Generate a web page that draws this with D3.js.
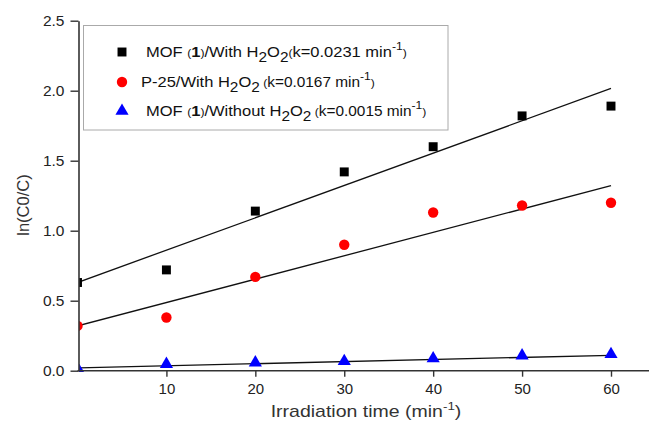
<!DOCTYPE html>
<html>
<head>
<meta charset="utf-8">
<script src="https://cdn.jsdelivr.net/npm/d3@7"></script>
<style>
  body { margin: 0; background: #fff; }
  svg { display: block; font-family: "Liberation Sans", Arial, sans-serif; }
</style>
</head>
<body>
<svg id="chart" width="649" height="423"></svg>
<script>
// irradiation times (min)
const times = [0, 10, 20, 30, 40, 50, 60];
// ln(C0/C) values
const mofWithH2O2 = [0.63, 0.72, 1.14, 1.42, 1.60, 1.82, 1.89];
const p25WithH2O2 = [0.32, 0.38, 0.67, 0.90, 1.13, 1.18, 1.20];
const mofWithoutH2O2 = [0.01, 0.04, 0.05, 0.06, 0.08, 0.10, 0.11];
// linear fit: intercept and rate constant k
const fitIntercepts = [0.63, 0.32, 0.02];
const fitSlopes = [0.0231, 0.0167, 0.0015];
const xTicks = [10, 20, 30, 40, 50, 60];
const yTicks = [0.0, 0.5, 1.0, 1.5, 2.0, 2.5];

const svg = d3.select("#chart");
const x = d3.scaleLinear().domain([0, 60]).range([77.5, 611]);
const y = d3.scaleLinear().domain([0, 2.5]).range([370.7, 20.7]);
const axisColor = "#333";
const font = "Liberation Sans, Arial, sans-serif";

svg.append("defs").append("clipPath").attr("id", "plot")
  .append("rect").attr("x", x(0) + 1.5).attr("y", 0).attr("width", 649).attr("height", 372);

// legend box
svg.append("rect")
  .attr("x", 83.5).attr("y", 25.5).attr("width", 364.5).attr("height", 104.5)
  .attr("fill", "#fff").attr("stroke", "#aaa").attr("stroke-width", 1);

const series = [
  { vals: mofWithH2O2, color: "#000", shape: d3.symbolSquare, size: 80 },
  { vals: p25WithH2O2, color: "#ff0000", shape: d3.symbolCircle, size: 85 },
  { vals: mofWithoutH2O2, color: "#0000ff", shape: d3.symbolTriangle, size: 75 }
];

// fit lines + points
const plot = svg.append("g").attr("clip-path", "url(#plot)");
series.forEach((s, i) => {
  plot.append("line")
    .attr("x1", x(0)).attr("y1", y(fitIntercepts[i]))
    .attr("x2", x(60)).attr("y2", y(fitIntercepts[i] + fitSlopes[i] * 60))
    .attr("stroke", "#111").attr("stroke-width", 1.3);
});
series.forEach(s => {
  plot.selectAll(null).data(times).enter().append("path")
    .attr("d", d3.symbol().type(s.shape).size(s.size))
    .attr("transform", (t, j) => `translate(${x(t)},${y(s.vals[j]) + (s.shape === d3.symbolTriangle ? -1 : 0)})`)
    .attr("fill", s.color);
});

// axes
const yAxis = svg.append("g").attr("transform", `translate(${x(0) + 1},0)`)
  .call(d3.axisLeft(y).tickValues(yTicks).tickFormat(d3.format(".1f")).tickSize(8).tickSizeOuter(0).tickPadding(6));
yAxis.select(".domain").attr("stroke", axisColor).attr("stroke-width", 1.6);
yAxis.selectAll(".tick line").attr("stroke", axisColor).attr("stroke-width", 1.4);
yAxis.selectAll(".tick text").attr("font-size", 15.5).attr("fill", "#222").attr("font-family", font);

const xAxis = svg.append("g").attr("transform", `translate(0,${y(0)})`)
  .call(d3.axisBottom(x).tickValues(xTicks).tickSize(6).tickSizeOuter(0).tickPadding(7));
xAxis.select(".domain").attr("d", `M${x(0)},0H649`).attr("stroke", axisColor).attr("stroke-width", 1.6);
xAxis.selectAll(".tick line").attr("stroke", axisColor).attr("stroke-width", 1.4);
xAxis.selectAll(".tick text").attr("font-size", 15).attr("fill", "#222").attr("font-family", font);

// axis titles
svg.append("text")
  .attr("transform", "translate(29,205) rotate(-90)")
  .attr("text-anchor", "middle").attr("font-size", 16.5).attr("fill", "#333")
  .text("ln(C0/C)");

const xt = svg.append("text").attr("transform", "translate(366,417) scale(1.22,1)")
  .attr("text-anchor", "middle").attr("font-size", 16).attr("fill", "#333");
xt.append("tspan").text("Irradiation time (min");
xt.append("tspan").attr("dy", -7).attr("font-size", 11).text("-1");
xt.append("tspan").attr("dy", 7).text(")");

// legend
const legendY = [52, 82, 111];
const legendX = [146, 141, 146];
// [text, dy, size, weight]
const legendParts = [
  [["MOF ", 0, 15], ["(", 0, 11], ["1", 0, 15, "bold"], [")", 0, 11], ["/With H", 0, 15], ["2", 5, 14], ["O", -5, 15], ["2", 5, 14], ["(", -5, 11], ["k=0.0231 min", 0, 15], ["-1", -7, 11], [")", 7, 11]],
  [["P-25/With H", 0, 15], ["2", 5, 14], ["O", -5, 15], ["2", 5, 14], [" (", -5, 11], ["k=0.0167 min", 0, 14], ["-1", -7, 11], [")", 7, 11]],
  [["MOF ", 0, 15], ["(", 0, 11], ["1", 0, 15, "bold"], [")", 0, 11], ["/Without H", 0, 15], ["2", 5, 14], ["O", -5, 15], ["2", 5, 14], [" (", -5, 11], ["k=0.0015 min", 0, 14], ["-1", -7, 11], [")", 7, 11]]
];
series.forEach((s, i) => {
  svg.append("path")
    .attr("d", d3.symbol().type(s.shape).size(s.size))
    .attr("transform", `translate(122,${legendY[i]})`)
    .attr("fill", s.color);
  const t = svg.append("text")
    .attr("transform", `translate(${legendX[i]},${legendY[i] + 5}) scale(1.1,1)`)
    .attr("fill", "#111");
  legendParts[i].forEach(p => {
    t.append("tspan").attr("dy", p[1]).attr("font-size", p[2]).attr("font-weight", p[3] || null).text(p[0]);
  });
});
</script>
</body>
</html>
